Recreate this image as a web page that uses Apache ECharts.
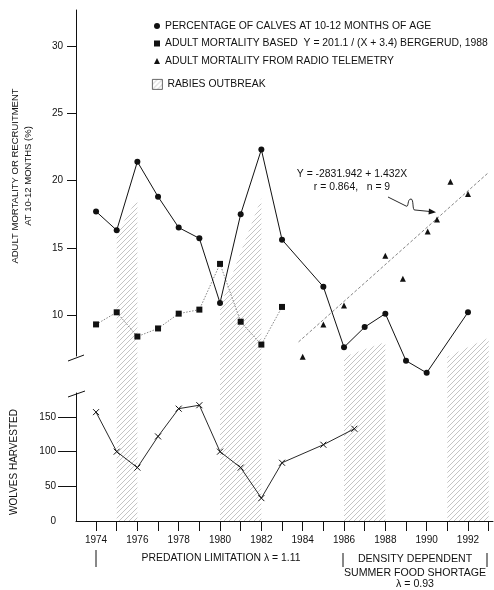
<!DOCTYPE html>
<html>
<head>
<meta charset="utf-8">
<script src="https://cdn.jsdelivr.net/npm/echarts@6/dist/echarts.min.js"></script>
<style>
html,body{margin:0;padding:0;background:#fff;}
#chart{width:494px;height:590px;}
</style>
</head>
<body>
<div id="chart"></div>
<script>
// ---- data ----
const calfYears = [1974,1975,1976,1977,1978,1979,1980,1981,1982,1983,1985,1986,1987,1988,1989,1990,1992];
const calfPct   = [17.7,16.3,21.4,18.8,16.5,15.7,10.9,17.5,22.3,15.6,12.1,7.6,9.1,10.1,6.6,5.7,10.2];

const bergYears = [1974,1975,1976,1977,1978,1979,1980,1981,1982,1983];
const bergMort  = [9.3,10.2,8.4,9.0,10.1,10.4,13.8,9.5,7.8,10.6];

const radioYears = [1984,1985,1986,1988,1988.85,1990.05,1990.5,1991.15,1992];
const radioMort  = [6.9,9.3,10.7,14.4,12.7,16.2,17.1,19.9,19.0];

const trendYears = [1983.8,1993.0];
const trendVals  = [8.0,20.6];

const wolfYears = [1974,1975,1976,1977,1978,1979,1980,1981,1982,1983,1985,1986.5];
const wolvesHarvested = [157,100,77,122,162,167,100,77,33,84,110,133];

const rabiesStart    = [1975,1980,1986,1991];
const rabiesEnd      = [1976,1982,1988,1993];
const rabiesTopStart = [16.0,10.6,6.9,6.9];
const rabiesTopEnd   = [18.7,18.7,8.0,8.3];

const xTickYears  = [1974,1975,1976,1977,1978,1979,1980,1981,1982,1983,1984,1985,1986,1987,1988,1989,1990,1991,1992,1993];
const xLabelYears = [1974,1976,1978,1980,1982,1984,1986,1988,1990,1992];
const topTicks    = [10,15,20,25,30];
const bottomTicks = [50,100,150];
const bottomLabels= [0,50,100,150];

const nameCalf  = 'PERCENTAGE OF CALVES AT 10-12 MONTHS OF AGE';
const nameBerg  = 'ADULT MORTALITY BASED  Y = 201.1 / (X + 3.4) BERGERUD, 1988';
const nameRadio = 'ADULT MORTALITY FROM RADIO TELEMETRY';
const nameRabies= 'RABIES OUTBREAK';

// ---- hatch pattern ----
const pc = document.createElement('canvas');
pc.width = 5; pc.height = 5;
const g = pc.getContext('2d');
g.strokeStyle = 'rgba(90,90,90,0.6)';
g.lineWidth = 0.6;
g.beginPath();
g.moveTo(0,5); g.lineTo(5,0);
g.moveTo(-1,1); g.lineTo(1,-1);
g.moveTo(4,6); g.lineTo(6,4);
g.stroke();
const hatch = {image: pc, repeat: 'repeat'};

const FONT = '"Liberation Sans", Arial, Helvetica, sans-serif';
const INK = '#111';
const XMIN = 1973.03, XMAX = 1993.21;

const chart = echarts.init(document.getElementById('chart'), null, {renderer:'canvas'});

const option = {
  animation: false,
  backgroundColor: '#fff',
  textStyle: {fontFamily: FONT, color: INK},
  legend: [
    {
      left: 154, top: 21, orient: 'vertical', padding: 0,
      itemWidth: 6, itemHeight: 6, itemGap: 7.5, selectedMode: false,
      textStyle: {fontSize: 10.4, color: INK, fontFamily: FONT},
      data: [
        {name: nameCalf, icon: 'circle'},
        {name: nameBerg, icon: 'rect'},
        {name: nameRadio, icon: 'triangle'}
      ]
    },
    {
      left: 152, top: 79, orient: 'vertical', padding: 0,
      itemWidth: 10, itemHeight: 10, selectedMode: false,
      textStyle: {fontSize: 10.4, color: INK, fontFamily: FONT},
      itemStyle: {borderColor: '#444', borderWidth: 0.8},
      data: [{name: nameRabies, icon: 'rect'}]
    }
  ],
  grid: [
    {left: 76, width: 417, top: 10, height: 511},
    {left: 76, width: 417, top: 10, height: 346},
    {left: 76, width: 417, top: 393, height: 128}
  ],
  xAxis: [
    {gridIndex: 0, type: 'value', min: XMIN, max: XMAX, show: false},
    {gridIndex: 1, type: 'value', min: XMIN, max: XMAX, show: false},
    {gridIndex: 2, type: 'value', min: XMIN, max: XMAX,
      axisLine: {show: true, lineStyle: {color: INK, width: 1}},
      axisTick: {show: true, inside: false, length: 10, customValues: xTickYears, lineStyle: {color: INK, width: 1}},
      axisLabel: {show: true, customValues: xLabelYears, margin: 14, fontSize: 10, color: INK, fontFamily: FONT,
        formatter: v => String(v)},
      splitLine: {show: false}}
  ],
  yAxis: [
    {gridIndex: 0, type: 'value', min: -5.316, max: 32.677, show: false},
    {gridIndex: 1, type: 'value', min: 6.952, max: 32.677,
      name: 'ADULT MORTALITY OR RECRUITMENT\nAT 10-12 MONTHS (%)',
      nameLocation: 'middle', nameGap: 41, nameRotate: 90,
      nameTextStyle: {fontSize: 9.5, color: INK, fontFamily: FONT, lineHeight: 13, padding: [0,0,0,14]},
      axisLine: {show: true, lineStyle: {color: INK, width: 1}},
      axisTick: {show: true, length: 9, customValues: topTicks, lineStyle: {color: INK}},
      axisLabel: {customValues: topTicks, margin: 13, fontSize: 10, color: INK, fontFamily: FONT},
      splitLine: {show: false}},
    {gridIndex: 2, type: 'value', min: 0, max: 184.6,
      name: 'WOLVES HARVESTED',
      nameLocation: 'middle', nameGap: 57, nameRotate: 90,
      nameTextStyle: {fontSize: 10, color: INK, fontFamily: FONT, padding: [0,10,0,0]},
      axisLine: {show: true, lineStyle: {color: INK, width: 1}},
      axisTick: {show: true, length: 18, customValues: bottomTicks, lineStyle: {color: INK}},
      axisLabel: {customValues: bottomLabels, margin: 20, fontSize: 10, color: INK, fontFamily: FONT},
      splitLine: {show: false}}
  ],
  series: [
    {
      name: nameRabies, type: 'custom', xAxisIndex: 0, yAxisIndex: 0, z: 1,
      itemStyle: {color: hatch},
      encode: {x: [0,1], y: [2,3]},
      data: rabiesStart.map((s,i) => [s, rabiesEnd[i], rabiesTopStart[i], rabiesTopEnd[i]]),
      renderItem: function (params, api) {
        const p1 = api.coord([api.value(0), api.value(2)]);
        const p2 = api.coord([api.value(1), api.value(3)]);
        const bottom = params.coordSys.y + params.coordSys.height;
        return {
          type: 'polygon',
          shape: {points: [[p1[0], bottom], [p1[0], p1[1]], [p2[0], p2[1]], [p2[0], bottom]]},
          style: {fill: hatch, stroke: null}
        };
      }
    },
    {
      name: 'trend', type: 'line', xAxisIndex: 0, yAxisIndex: 0, z: 3,
      data: trendYears.map((x,i) => [x, trendVals[i]]),
      showSymbol: false, symbol: 'none',
      lineStyle: {color: '#666', width: 0.8, type: [3,2]}
    },
    {
      name: nameBerg, type: 'line', xAxisIndex: 0, yAxisIndex: 0, z: 4,
      data: bergYears.map((x,i) => [x, bergMort[i]]),
      symbol: 'rect', symbolSize: 6,
      itemStyle: {color: INK},
      lineStyle: {color: '#666', width: 0.8, type: [1.5,1.5]}
    },
    {
      name: nameRadio, type: 'line', xAxisIndex: 0, yAxisIndex: 0, z: 4,
      data: radioYears.map((x,i) => [x, radioMort[i]]),
      symbol: 'triangle', symbolSize: 6,
      itemStyle: {color: INK},
      lineStyle: {width: 0, opacity: 0}
    },
    {
      name: nameCalf, type: 'line', xAxisIndex: 0, yAxisIndex: 0, z: 5,
      data: calfYears.map((x,i) => [x, calfPct[i]]),
      symbol: 'circle', symbolSize: 6,
      itemStyle: {color: INK},
      lineStyle: {color: INK, width: 1}
    },
    {
      name: 'wolves', type: 'line', xAxisIndex: 2, yAxisIndex: 2, z: 5,
      data: wolfYears.map((x,i) => [x, wolvesHarvested[i]]),
      symbol: 'path://M0,0L10,10M0,10L10,0', symbolSize: 6,
      itemStyle: {color: 'none', borderColor: INK, borderWidth: 1},
      lineStyle: {color: INK, width: 0.9}
    }
  ],
  graphic: [
    {type: 'line', shape: {x1: 68, y1: 361, x2: 84, y2: 355}, style: {stroke: INK, lineWidth: 1}},
    {type: 'line', shape: {x1: 68, y1: 397, x2: 85, y2: 391}, style: {stroke: INK, lineWidth: 1}},
    {type: 'text', x: 352, y: 174, style: {text: 'Y = -2831.942 + 1.432X', font: '10.4px ' + FONT, fill: INK, align: 'center', verticalAlign: 'middle'}},
    {type: 'text', x: 352, y: 187, style: {text: 'r = 0.864,   n = 9', font: '10.4px ' + FONT, fill: INK, align: 'center', verticalAlign: 'middle'}},
    {type: 'line', shape: {x1: 388, y1: 197, x2: 406, y2: 206}, style: {stroke: INK, lineWidth: 0.9}},
    {type: 'bezierCurve', shape: {x1: 406, y1: 206, cpx1: 409, cpy1: 208, cpx2: 407, cpy2: 199, x2: 411, y2: 199}, style: {stroke: INK, lineWidth: 0.9, fill: null}},
    {type: 'bezierCurve', shape: {x1: 411, y1: 199, cpx1: 414, cpy1: 199, cpx2: 412, cpy2: 211, x2: 415, y2: 210}, style: {stroke: INK, lineWidth: 0.9, fill: null}},
    {type: 'line', shape: {x1: 415, y1: 210, x2: 430, y2: 211.5}, style: {stroke: INK, lineWidth: 0.9}},
    {type: 'polygon', shape: {points: [[436,212.2],[429,208.5],[428.5,214.5]]}, style: {fill: INK}},
    {type: 'line', shape: {x1: 96, y1: 550, x2: 96, y2: 567}, style: {stroke: INK, lineWidth: 1}},
    {type: 'text', x: 221, y: 558, style: {text: 'PREDATION LIMITATION \u03bb = 1.11', font: '10.4px ' + FONT, fill: INK, align: 'center', verticalAlign: 'middle'}},
    {type: 'line', shape: {x1: 343, y1: 553, x2: 343, y2: 567}, style: {stroke: INK, lineWidth: 1}},
    {type: 'line', shape: {x1: 487, y1: 553, x2: 487, y2: 567}, style: {stroke: INK, lineWidth: 1}},
    {type: 'text', x: 415, y: 559, style: {text: 'DENSITY DEPENDENT', font: '10.6px ' + FONT, fill: INK, align: 'center', verticalAlign: 'middle'}},
    {type: 'text', x: 415, y: 573, style: {text: 'SUMMER FOOD SHORTAGE', font: '10.6px ' + FONT, fill: INK, align: 'center', verticalAlign: 'middle'}},
    {type: 'text', x: 415, y: 584, style: {text: '\u03bb = 0.93', font: '10.6px ' + FONT, fill: INK, align: 'center', verticalAlign: 'middle'}}
  ]
};
chart.setOption(option);
</script>
</body>
</html>
